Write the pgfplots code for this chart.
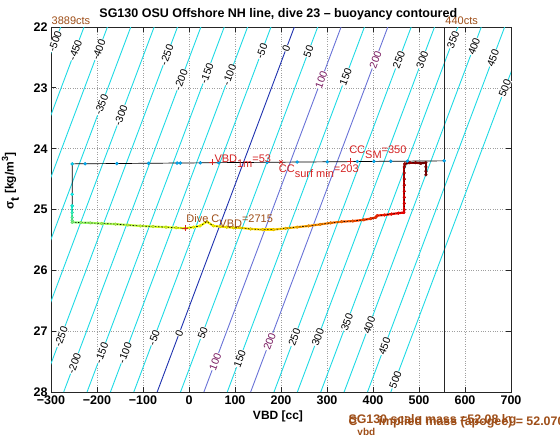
\documentclass[border=0pt]{standalone}
\usepackage{fontspec}
\setmainfont{Liberation Sans}
\usepackage{pgfplots}
\usepackage{pgfplotstable}
\pgfplotsset{compat=1.18}
\definecolor{cyanc}{RGB}{30,218,228}
\definecolor{zeroc}{RGB}{30,50,175}
\definecolor{hundc}{RGB}{105,115,215}
\definecolor{hundt}{RGB}{120,25,95}
\definecolor{redt}{RGB}{212,35,35}
\definecolor{brownt}{RGB}{158,78,24}
\newcommand{\sub}[1]{\raisebox{-0.45em}{#1}}
\tikzset{
  contour/.style={cyanc, line width=0.9pt},
  clab/.style={fill=white, inner sep=0.4pt, rotate=69.4, font=\fontsize{10.5}{10.5}\selectfont},
}

% surface part of the dive (VBD [cc], sigma_t, colour value)
\pgfplotstableread{
x y c
554.7 24.200 0.30
475 24.205 0.30
438.6 24.207 0.30
402 24.209 0.30
366 24.212 0.30
300.6 24.216 0.30
235 24.220 0.30
170 24.224 0.30
64.5 24.230 0.30
24.6 24.233 0.30
-19 24.236 0.30
-26 24.236 0.30
-88 24.240 0.30
-157 24.244 0.30
-226 24.248 0.30
-254 24.250 0.34
-254 24.75 0.38
-254 24.94 0.40
}\topdata
% subsurface part
\pgfplotstableread{
x y c
-254 24.94 0.40
-254 25.05 0.43
-254 25.13 0.46
-254 25.18 0.48
-254 25.21 0.50
-235 25.215 0.52
-215 25.22 0.53
-190 25.23 0.54
-160 25.24 0.55
-133 25.255 0.56
-106 25.27 0.57
-78 25.28 0.58
-50 25.29 0.59
-28 25.30 0.60
-8 25.31 0.61
10 25.29 0.62
24 25.27 0.62
39 25.20 0.63
53 25.27 0.63
68 25.28 0.64
82 25.29 0.64
97 25.30 0.645
111 25.30 0.65
134 25.32 0.655
160 25.33 0.66
184 25.33 0.665
210 25.31 0.68
235 25.29 0.70
260 25.27 0.72
285 25.245 0.74
308 25.22 0.75
332 25.20 0.77
356 25.19 0.79
380 25.17 0.81
395 25.15 0.82
406 25.13 0.83
409 25.10 0.84
425 25.09 0.85
440 25.075 0.86
455 25.06 0.87
467 25.05 0.88
468 25.00 0.89
468 24.90 0.90
468 24.80 0.90
468 24.70 0.91
468 24.60 0.92
468 24.50 0.93
468 24.40 0.94
468 24.30 0.95
469 24.25 0.96
480 24.23 0.97
492 24.23 0.98
504 24.24 0.99
515 24.23 1.00
515 24.30 1.00
515 24.37 1.00
515 24.43 1.00
}\botdata

\begin{document}
\begin{tikzpicture}[x=1pt,y=1pt]
\path[use as bounding box] (0,0) rectangle (560,442);
\clip (0,0) rectangle (560,442);
\begin{axis}[
  at={(51pt,50pt)}, anchor=south west,
  scale only axis, width=460pt, height=365pt,
  xmin=-300, xmax=700, ymin=22, ymax=28, y dir=reverse,
  xtick={-300,-200,-100,0,100,200,300,400,500,600,700},
  xticklabels={−300,−200,−100,0,100,200,300,400,500,600,700},
  ytick={22,23,24,25,26,27,28},
  yticklabels={22,23,24,25,26,27,28},
  tick label style={font=\fontsize{12.5}{14}\selectfont\bfseries},
  grid=major,
  major grid style={dotted, gray!75, line width=0.6pt},
  axis line style={black!85, line width=0.9pt},
  major tick length=5pt,
  tick style={black!85, line width=0.7pt},
  tick align=inside,
  clip mode=individual,
  colormap/jet, point meta min=0, point meta max=1,
]
% buoyancy contours (g)
\addplot[contour] coordinates {(-279,22) (-577.2,28)};
\addplot[contour] coordinates {(-228.2,22) (-526.4,28)};
\addplot[contour] coordinates {(-177.4,22) (-475.6,28)};
\addplot[contour] coordinates {(-126.6,22) (-424.8,28)};
\addplot[contour] coordinates {(-75.8,22) (-374,28)};
\addplot[contour] coordinates {(-25,22) (-323.2,28)};
\addplot[contour] coordinates {(25.8,22) (-272.4,28)};
\addplot[contour] coordinates {(76.6,22) (-221.6,28)};
\addplot[contour] coordinates {(127.4,22) (-170.8,28)};
\addplot[contour] coordinates {(178.2,22) (-120,28)};
\addplot[zeroc, line width=0.9pt] coordinates {(229,22) (-69.2,28)};
\addplot[contour] coordinates {(279.8,22) (-18.4,28)};
\addplot[hundc, line width=0.9pt] coordinates {(330.6,22) (32.4,28)};
\addplot[contour] coordinates {(381.4,22) (83.2,28)};
\addplot[hundc, line width=0.9pt] coordinates {(432.2,22) (134,28)};
\addplot[contour] coordinates {(483,22) (184.8,28)};
\addplot[contour] coordinates {(533.8,22) (235.6,28)};
\addplot[contour] coordinates {(584.6,22) (286.4,28)};
\addplot[contour] coordinates {(635.4,22) (337.2,28)};
\addplot[contour] coordinates {(686.2,22) (388,28)};
\addplot[contour] coordinates {(737,22) (438.8,28)};
% apogee limit line
\addplot[black!85, line width=0.9pt] coordinates {(555,22) (555,28)};
% dive path
\addplot[mesh, line width=2.2pt, point meta=explicit] table[x=x, y=y, meta=c] {\botdata};
\addplot[black, line width=0.7pt] table[x=x, y=y] {\topdata};
\addplot[black, line width=0.6pt, dash pattern=on 1.6pt off 1.6pt] table[x=x, y=y] {\botdata};
\addplot[scatter, only marks, mark=*, mark size=1.5pt, point meta=explicit]
  table[x=x, y=y, meta=c] {\topdata};
\addplot[scatter, only marks, mark=*, mark size=1.4pt, point meta=explicit]
  table[x=x, y=y, meta=c] {\botdata};
% markers
\addplot[redt, only marks, mark=+, mark size=3pt, line width=0.8pt] coordinates {(50,24.225) (350,24.21) (-8,25.31)};
\addplot[redt, only marks, mark=x, mark size=2.2pt, line width=0.8pt] coordinates {(200,24.22)};

% contour labels (top)
\node[clab] at (axis cs:-290.9,22.24) {-500};
\node[clab] at (axis cs:-247.1,22.38) {-450};
\node[clab] at (axis cs:-196,22.375) {-400};
\node[clab] at (axis cs:-190.2,23.28) {-350};
\node[clab] at (axis cs:-147.9,23.45) {-300};
\node[clab] at (axis cs:-47.9,22.46) {-250};
\node[clab] at (axis cs:-17.4,22.87) {-200};
\node[clab] at (axis cs:38.8,22.76) {-150};
\node[clab] at (axis cs:88.1,22.79) {-100};
\node[clab] at (axis cs:158.3,22.4) {-50};
\node[clab] at (axis cs:211.6,22.35) {0};
\node[clab] at (axis cs:259.9,22.4) {50};
\node[clab, text=hundt] at (axis cs:287.4,22.87) {100};
\node[clab] at (axis cs:340.6,22.82) {150};
\node[clab, text=hundt] at (axis cs:405.4,22.54) {200};
\node[clab] at (axis cs:456.2,22.54) {250};
\node[clab] at (axis cs:507,22.54) {300};
\node[clab] at (axis cs:574.2,22.21) {350};
\node[clab] at (axis cs:619.5,22.32) {400};
\node[clab] at (axis cs:660.9,22.51) {450};
\node[clab] at (axis cs:686.8,23.01) {500};
% contour labels (bottom)
\node[clab] at (axis cs:-278,27.09) {-250};
\node[clab] at (axis cs:-249,27.53) {-200};
\node[clab] at (axis cs:-189.8,27.36) {-150};
\node[clab] at (axis cs:-139,27.36) {-100};
\node[clab] at (axis cs:-75.8,27.11) {-50};
\node[clab] at (axis cs:-21,27.03) {0};
\node[clab] at (axis cs:29.8,27.03) {50};
\node[clab, text=hundt] at (axis cs:57.2,27.5) {100};
\node[clab] at (axis cs:110.5,27.45) {150};
\node[clab, text=hundt] at (axis cs:175.2,27.17) {200};
\node[clab] at (axis cs:229.5,27.1) {250};
\node[clab] at (axis cs:280.3,27.1) {300};
\node[clab] at (axis cs:343.6,26.85) {350};
\node[clab] at (axis cs:391.9,26.9) {400};
\node[clab] at (axis cs:425.2,27.25) {450};
\node[clab] at (axis cs:448.7,27.8) {500};

% annotations
\node[anchor=base west, inner sep=0, text=redt, font=\fontsize{11}{11}\selectfont] at (axis cs:55,24.22) {VBD\sub{1m}=53};
\node[anchor=base west, inner sep=0, text=redt, font=\fontsize{11}{11}\selectfont] at (axis cs:195,24.385) {CC\sub{surf min}=203};
\node[anchor=base west, inner sep=0, text=redt, font=\fontsize{11}{11}\selectfont] at (axis cs:348,24.08) {CC\sub{SM}=350};
\node[anchor=base west, inner sep=0, text=brownt, font=\fontsize{11}{11}\selectfont] at (axis cs:-6,25.22) {Dive C\sub{VBD}=2715};
\node[anchor=base west, inner sep=0, text=brownt, font=\fontsize{11}{11}\selectfont, yshift=3pt] at (axis cs:-299,22) {3889cts};
\node[anchor=base west, inner sep=0, text=brownt, font=\fontsize{11}{11}\selectfont, yshift=3pt] at (axis cs:557,22) {440cts};
\end{axis}
% title, axis labels and notes
\node[anchor=base, font=\fontsize{12.5}{14}\selectfont\bfseries] at (278.3,424.5) {SG130 OSU Offshore NH line, dive 23 – buoyancy contoured};
\node[anchor=base, font=\fontsize{12}{14}\selectfont\bfseries] at (278,22.5) {VBD [cc]};
\node[rotate=90, font=\fontsize{12}{14}\selectfont\bfseries] at (10.5,261) {σ\sub{t} [kg/m\raisebox{0.45em}{\fontsize{9}{9}\selectfont 3}]};
\node[anchor=base west, inner sep=0, text=brownt, font=\fontsize{12.4}{14}\selectfont\bfseries] at (348.3,18.5) {SG130 scale mass =52.08 kg};
\node[anchor=base west, inner sep=0, text=brownt, font=\fontsize{12.4}{14}\selectfont\bfseries] at (348.3,16) {C\raisebox{-0.75em}{\fontsize{10}{10}\selectfont vbd} implied mass (apogee) = 52.0706 kg};
\end{tikzpicture}
\end{document}
